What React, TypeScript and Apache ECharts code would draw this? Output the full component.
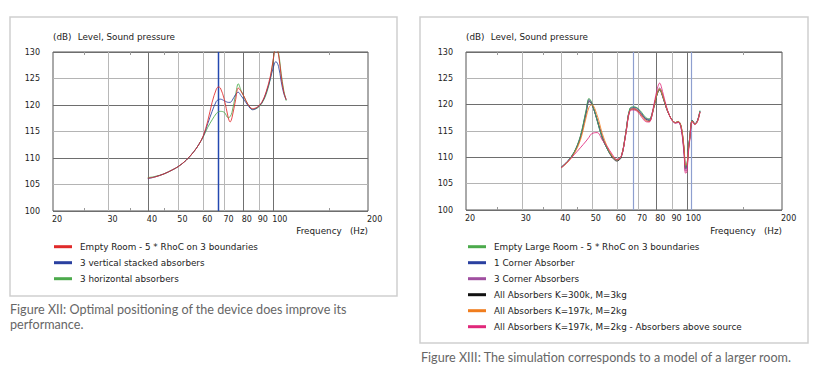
import React, { useEffect, useRef } from "react";
import * as echarts from "echarts";

// ---------- Data ----------
const LEFT_FREQ = [40, 42, 45, 48, 50, 53, 56, 58, 60, 62, 64, 66, 67, 68, 70, 72, 73, 74, 76, 77.5, 79, 81, 83, 86, 89, 92, 95, 98, 100, 102, 104, 106, 108, 110];
const LEFT_EMPTY = [106.2, 106.4, 107.0, 107.8, 108.4, 109.6, 111.2, 112.5, 114.2, 117.0, 120.5, 123.0, 123.4, 123.2, 121.0, 117.6, 116.8, 117.6, 121.0, 123.2, 122.6, 121.5, 120.2, 119.3, 119.6, 120.5, 122.5, 125.5, 128.5, 131.0, 129.5, 125.5, 122.5, 121.0];
const LEFT_VERTICAL = [106.1, 106.4, 107.0, 107.8, 108.4, 109.6, 111.2, 112.5, 114.1, 116.5, 118.8, 120.7, 121.0, 121.1, 120.8, 120.5, 120.5, 120.8, 122.0, 122.4, 121.8, 120.9, 120.0, 119.1, 119.5, 120.4, 122.3, 125.0, 127.0, 128.2, 127.3, 124.5, 122.2, 121.0];
const LEFT_HORIZONTAL = [106.3, 106.5, 107.0, 107.8, 108.4, 109.6, 111.2, 112.5, 114.0, 115.8, 117.2, 118.4, 118.7, 118.8, 118.6, 117.6, 117.8, 118.6, 122.0, 124.0, 122.8, 121.4, 120.2, 119.2, 119.4, 120.3, 122.0, 125.0, 128.5, 131.0, 129.8, 126.0, 122.8, 120.8];

const RIGHT_FREQ = [40, 42, 44, 46, 48, 49, 50, 52, 54, 56, 58, 60, 62, 64, 66, 68, 70, 72, 74, 76, 78, 80, 82, 84, 86, 88, 90, 92, 94, 96, 98, 99, 100, 101, 102, 104, 106, 108, 110];
const RIGHT_EMPTY_LARGE = [108.1, 109.3, 111.0, 114.0, 119.0, 121.2, 120.4, 117.0, 113.6, 111.6, 110.2, 109.5, 110.2, 114.5, 119.3, 119.6, 119.3, 118.5, 117.6, 117.3, 118.8, 121.5, 123.0, 121.5, 119.5, 118.0, 117.0, 116.6, 116.8, 115.8, 111.5, 108.0, 108.3, 111.5, 113.5, 117.0, 116.3, 116.9, 118.9];
const RIGHT_ONE_CORNER = [108.1, 109.3, 111.0, 113.9, 118.8, 121.0, 120.3, 117.0, 113.6, 111.6, 110.2, 109.5, 110.2, 114.5, 119.2, 119.5, 119.2, 118.3, 117.4, 117.2, 118.8, 121.5, 122.9, 121.4, 119.5, 118.0, 117.0, 116.6, 116.8, 115.6, 111.2, 107.8, 108.0, 111.3, 113.4, 117.0, 116.4, 117.0, 118.8];
const RIGHT_THREE_CORNER = [108.1, 109.3, 110.9, 113.8, 118.6, 120.8, 120.2, 117.1, 113.8, 111.7, 110.2, 109.5, 110.2, 114.3, 118.9, 119.3, 119.0, 118.1, 117.1, 116.8, 118.6, 121.6, 123.2, 121.5, 119.4, 118.0, 117.0, 116.5, 116.6, 115.4, 110.8, 107.4, 107.6, 111.0, 113.2, 116.9, 116.3, 116.9, 118.6];
const RIGHT_ALL_300K = [108.0, 109.2, 110.9, 113.7, 118.4, 120.6, 120.1, 117.2, 113.9, 111.6, 110.0, 109.3, 110.0, 114.4, 119.0, 119.2, 118.8, 118.0, 117.3, 117.0, 118.6, 121.4, 122.8, 121.4, 119.5, 118.0, 117.0, 116.6, 116.7, 115.7, 111.3, 108.1, 108.2, 111.3, 113.5, 117.0, 116.4, 116.9, 118.7];
const RIGHT_ALL_197K = [108.0, 109.1, 110.7, 113.2, 117.6, 119.5, 120.0, 118.0, 114.5, 112.0, 110.3, 109.5, 110.2, 114.3, 118.9, 119.2, 118.8, 117.9, 117.0, 116.8, 118.6, 121.6, 123.0, 121.6, 119.6, 118.0, 117.0, 116.6, 116.8, 115.8, 111.8, 108.6, 108.6, 111.0, 113.3, 116.9, 116.3, 116.8, 118.6];
const RIGHT_ABOVE_SOURCE = [108.0, 109.2, 110.5, 111.8, 113.1, 113.8, 114.5, 114.7, 113.3, 112.0, 110.6, 109.6, 110.2, 114.2, 118.8, 119.0, 118.6, 117.6, 116.8, 116.7, 118.9, 122.2, 124.1, 122.2, 119.8, 118.0, 116.9, 116.5, 116.7, 115.4, 110.5, 107.0, 107.2, 110.5, 113.0, 116.8, 116.2, 116.8, 118.6];

const LEFT_NAMES = ["Empty Room - 5 * RhoC on 3 boundaries", "3 vertical stacked absorbers", "3 horizontal absorbers"];
const RIGHT_NAMES = [
  "Empty Large Room - 5 * RhoC on 3 boundaries",
  "1 Corner Absorber",
  "3 Corner Absorbers",
  "All Absorbers K=300k, M=3kg",
  "All Absorbers K=197k, M=2kg",
  "All Absorbers K=197k, M=2kg - Absorbers above source",
];
const LEFT_COLORS = ["#e02a2a", "#2a40a0", "#4caa4c"];
const RIGHT_COLORS = ["#4caa4c", "#2a40a0", "#a04fa0", "#111111", "#f07d1e", "#e0287a"];

const X_TICK_LABELS = [20, 30, 40, 50, 60, 70, 80, 90, 100, 200];
const MINOR_TICKS = [25, 35, 45, 150];
const LEFT_GRID_LIGHT = [30, 50, 60, 70, 90];
const LEFT_GRID_DARK = [40, 80, 100];
const LEFT_MARKERS = [67];
const RIGHT_GRID_LIGHT = [30, 40, 50, 60, 70, 90];
const RIGHT_GRID_DARK = [80, 100];
const RIGHT_MARKERS = [67.5, 103.4];

const Y_UNIT = "(dB)";
const Y_TITLE = "Level, Sound pressure";
const X_TITLE = "Frequency";
const X_UNIT = "(Hz)";
const LEFT_CAPTION = ["Figure XII: Optimal positioning of the device does improve its", "performance."];
const RIGHT_CAPTION = ["Figure XIII: The simulation corresponds to a model of a larger room."];

const FONT = "'DejaVu Sans', Verdana, sans-serif";
const FS = 8.8;
const NUM_FS = 8;
const CAPTION_FONT = "Lato, sans-serif";

export default function App() {
  const ref = useRef<HTMLDivElement>(null);

  useEffect(() => {
    const chart = echarts.init(ref.current!, null, { renderer: "svg" });

    const mkSeries = (name: string, color: string, freq: number[], vals: number[], idx: number) => ({
      type: "line",
      name,
      xAxisIndex: idx,
      yAxisIndex: idx,
      data: freq.map((f, i) => [f, vals[i]]),
      showSymbol: false,
      smooth: 0.35,
      clip: true,
      z: 3,
      lineStyle: { color, width: 1, opacity: 0.85 },
      itemStyle: { color },
      emphasis: { disabled: true },
    });

    const leftVals = [LEFT_EMPTY, LEFT_VERTICAL, LEFT_HORIZONTAL];
    const rightVals = [RIGHT_EMPTY_LARGE, RIGHT_ONE_CORNER, RIGHT_THREE_CORNER, RIGHT_ALL_300K, RIGHT_ALL_197K, RIGHT_ABOVE_SOURCE];
    const leftOrder = [2, 1, 0];
    const rightOrder = [3, 2, 1, 0, 4, 5];

    const series: any[] = [];
    leftOrder.forEach((i) => series.push(mkSeries(LEFT_NAMES[i], LEFT_COLORS[i], LEFT_FREQ, leftVals[i], 0)));
    rightOrder.forEach((i) => series.push(mkSeries(RIGHT_NAMES[i], RIGHT_COLORS[i], RIGHT_FREQ, rightVals[i], 1)));

    const xAxisBase = (gi: number) => ({
      type: "log",
      logBase: 10,
      min: 20,
      max: 200,
      gridIndex: gi,
      axisLabel: { show: false },
      axisTick: { show: false },
      axisLine: { show: false },
      splitLine: { show: false },
    });
    const yAxisBase = (gi: number) => ({
      type: "value",
      min: 100,
      max: 130,
      interval: 5,
      gridIndex: gi,
      axisLine: { show: false },
      axisTick: { show: false },
      axisLabel: { fontSize: NUM_FS, fontFamily: FONT, color: "#222", margin: 13 },
      splitLine: { show: true, lineStyle: { color: ["#6e6e6e", "#b4b4b4"], width: 1 } },
    });

    chart.setOption({
      animation: false,
      backgroundColor: "#fff",
      grid: [
        { left: 53, top: 52, width: 315, height: 159, show: true, borderColor: "#555", borderWidth: 1, backgroundColor: "transparent", containLabel: false, outerBoundsMode: "none" },
        { left: 466, top: 52, width: 316, height: 158, show: true, borderColor: "#555", borderWidth: 1, backgroundColor: "transparent", containLabel: false, outerBoundsMode: "none" },
      ],
      xAxis: [xAxisBase(0), xAxisBase(1)],
      yAxis: [yAxisBase(0), yAxisBase(1)],
      series,
    });

    const g: any[] = [];
    const px = (gi: number, f: number, v: number) => chart.convertToPixel({ gridIndex: gi } as any, [f, v]) as number[];
    const vline = (gi: number, f: number, color: string, w: number, z = 1) => {
      const a = px(gi, f, 100);
      const b = px(gi, f, 130);
      const x = Math.round(a[0]) + 0.5;
      g.push({ type: "line", silent: true, z, shape: { x1: x, y1: a[1], x2: x, y2: b[1] }, style: { stroke: color, lineWidth: w } });
    };
    const txt = (text: string, x: number, y: number, align: string, fontSize = FS, fontFamily = FONT, fill = "#222") => {
      g.push({ type: "text", silent: true, z: 1, style: { text, x, y, fontSize, fontFamily, fill, align, verticalAlign: "middle" } });
    };

    g.push({ type: "rect", silent: true, z: 0, shape: { x: 10, y: 17, width: 387, height: 279 }, style: { fill: "none", stroke: "#cfcfcf", lineWidth: 1.5 } });
    g.push({ type: "rect", silent: true, z: 0, shape: { x: 420, y: 17, width: 388, height: 326 }, style: { fill: "none", stroke: "#cfcfcf", lineWidth: 1.5 } });

    const panels = [
      { gi: 0, light: LEFT_GRID_LIGHT, dark: LEFT_GRID_DARK, markers: LEFT_MARKERS, markerColor: "#2448b0", markerWidth: 1.5, names: LEFT_NAMES, colors: LEFT_COLORS, legendX: 54 },
      { gi: 1, light: RIGHT_GRID_LIGHT, dark: RIGHT_GRID_DARK, markers: RIGHT_MARKERS, markerColor: "#8e9fcf", markerWidth: 1.2, names: RIGHT_NAMES, colors: RIGHT_COLORS, legendX: 468 },
    ];
    panels.forEach((p) => {
      p.light.forEach((f) => vline(p.gi, f, "#b8b8b8", 1));
      p.dark.forEach((f) => vline(p.gi, f, "#707070", 1));
      p.markers.forEach((f) => vline(p.gi, f, p.markerColor, p.markerWidth, 2));
      MINOR_TICKS.forEach((f) => {
        const a = px(p.gi, f, 100);
        const b = px(p.gi, f, 130);
        const x = Math.round(a[0]) + 0.5;
        g.push({ type: "line", silent: true, z: 1, shape: { x1: x, y1: a[1], x2: x, y2: a[1] - 3 }, style: { stroke: "#999", lineWidth: 1 } });
        g.push({ type: "line", silent: true, z: 1, shape: { x1: x, y1: b[1], x2: x, y2: b[1] + 3 }, style: { stroke: "#999", lineWidth: 1 } });
      });
      X_TICK_LABELS.forEach((f) => {
        const a = px(p.gi, f, 100);
        txt(String(f), a[0] - 1, a[1] + 8.5, "left", NUM_FS);
      });
      const tl = px(p.gi, 20, 130);
      const br = px(p.gi, 200, 100);
      txt(Y_UNIT, tl[0], 37, "left");
      txt(Y_TITLE, tl[0] + 24.7, 37, "left");
      txt(X_UNIT, br[0], 231, "right");
      txt(X_TITLE, br[0] - 26.3, 231, "right");
      p.names.forEach((name, i) => {
        const y = 246.7 + i * 16;
        g.push({ type: "rect", silent: true, z: 1, shape: { x: p.legendX, y: y - 1.5, width: 18, height: 3 }, style: { fill: p.colors[i] } });
        txt(name, p.legendX + 26, y, "left");
      });
    });

    LEFT_CAPTION.forEach((t, i) => txt(t, 10, 309 + i * 15, "left", 12.6, CAPTION_FONT, "#666"));
    RIGHT_CAPTION.forEach((t, i) => txt(t, 421, 357 + i * 15, "left", 12.6, CAPTION_FONT, "#666"));

    chart.setOption({ graphic: g });

    return () => chart.dispose();
  }, []);

  return <div ref={ref} style={{ position: "absolute", left: 0, top: 0, width: 820, height: 381, background: "#fff" }} />;
}
